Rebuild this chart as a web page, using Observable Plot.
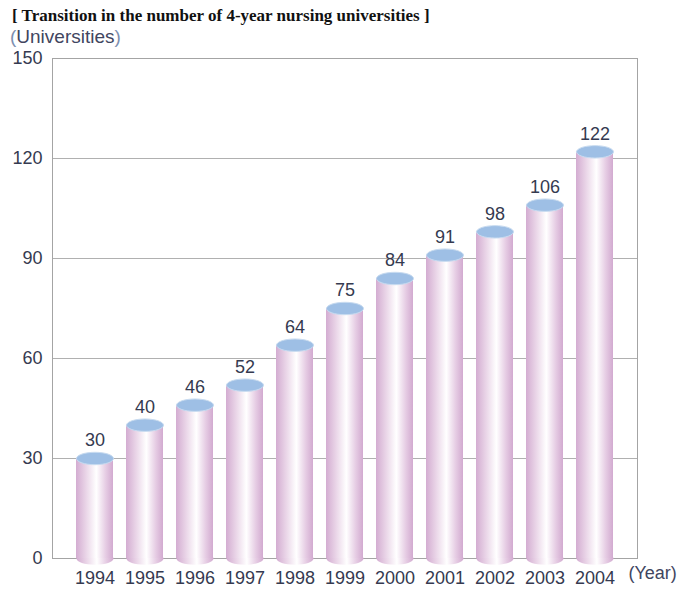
<!DOCTYPE html>
<html>
<head>
<meta charset="utf-8">
<script src="https://cdn.jsdelivr.net/npm/d3@7"></script>
<script src="https://cdn.jsdelivr.net/npm/@observablehq/plot@0.6"></script>
<style>
  body { margin: 0; background: #fff; }
  #header { position: relative; width: 686px; height: 48px; }
  #title { position: absolute; left: 12px; top: 6px; font-family: "Liberation Serif", "DejaVu Serif", serif; font-weight: bold; font-size: 17px; color: #111; white-space: nowrap; }
  #subtitle { position: absolute; left: 10px; top: 26px; font-family: "Liberation Sans", Arial, sans-serif; font-size: 19px; color: #41465f; white-space: nowrap; }
  #subtitle .p { color: #7d8fb0; }
</style>
</head>
<body>
<div id="header">
  <div id="title">[ Transition in the number of 4-year nursing universities ]</div>
  <div id="subtitle"><span class="p">(</span>Universities<span class="p">)</span></div>
</div>
<div id="chart"></div>
<script>
const years = ["1994","1995","1996","1997","1998","1999","2000","2001","2002","2003","2004"];
const values = [30, 40, 46, 52, 64, 75, 84, 91, 98, 106, 122];
const yTicks = [0, 30, 60, 90, 120, 150];
const gridTicks = [30, 60, 90, 120];
const xUnitLabel = ["(Year)"];

const data = years.map((y, i) => ({year: y, value: values[i]}));

const ellipse = {
  draw(ctx) {
    const a = 18.5, b = 6.2, k = 0.5523;
    ctx.moveTo(a, 0);
    ctx.bezierCurveTo(a, b * k, a * k, b, 0, b);
    ctx.bezierCurveTo(-a * k, b, -a, b * k, -a, 0);
    ctx.bezierCurveTo(-a, -b * k, -a * k, -b, 0, -b);
    ctx.bezierCurveTo(a * k, -b, a, -b * k, a, 0);
    ctx.closePath();
  }
};

const svg = Plot.plot({
  width: 686,
  height: 542,
  marginTop: 10,
  marginBottom: 32,
  marginLeft: 52,
  marginRight: 49,
  style: {fontFamily: "'Liberation Sans', Arial, sans-serif", color: "#353a50", background: "#fff"},
  x: {type: "band", domain: years, paddingInner: 0.27, paddingOuter: 0.415},
  y: {domain: [0, 150]},
  marks: [
    Plot.gridY(gridTicks, {stroke: "#b0b0b0", strokeOpacity: 1}),
    Plot.frame({stroke: "#a4a4a4"}),
    Plot.axisY(yTicks, {tickSize: 0, tickPadding: 10, fontSize: 18, label: null}),
    Plot.axisX({tickSize: 0, tickPadding: 13, fontSize: 18, label: null}),
    Plot.dot(data, {x: "year", y: () => 0, symbol: ellipse, fill: "url(#cyl)", stroke: "none"}),
    Plot.barY(data, {x: "year", y: "value", fill: "url(#cyl)"}),
    Plot.dot(data, {x: "year", y: "value", symbol: ellipse, fill: "#9ebfe5", stroke: "#c8dbf0", strokeWidth: 1}),
    Plot.text(data, {x: "year", y: "value", text: d => String(d.value), dy: -18, fontSize: 18, fill: "#353a50"}),
    Plot.text(xUnitLabel, {frameAnchor: "bottom-right", textAnchor: "start", dx: -9, dy: 20, fontSize: 18, fill: "#41465f"})
  ]
});

d3.select(svg).insert("defs", ":first-child").html(`
  <linearGradient id="cyl" x1="0" x2="1" y1="0" y2="0">
    <stop offset="0%" stop-color="#d3acd1"/>
    <stop offset="25%" stop-color="#e8d2e6"/>
    <stop offset="55%" stop-color="#ffffff"/>
    <stop offset="80%" stop-color="#e6cde4"/>
    <stop offset="100%" stop-color="#d2aad0"/>
  </linearGradient>`);

document.getElementById("chart").appendChild(svg);
</script>
</body>
</html>
